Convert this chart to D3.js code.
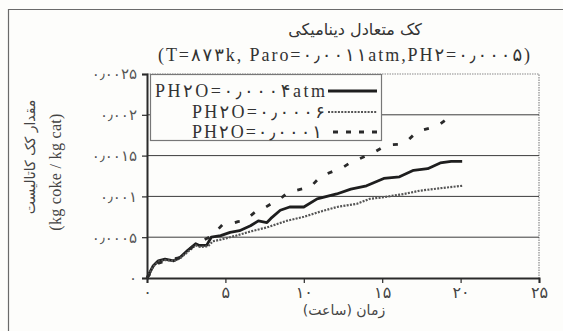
<!DOCTYPE html>
<html>
<head>
<meta charset="utf-8">
<script src="https://cdn.jsdelivr.net/npm/d3@7"></script>
<style>
  html, body { margin: 0; padding: 0; background: #fdfdfb; }
  svg { display: block; }
</style>
</head>
<body>
<svg id="chart" width="563" height="331"></svg>
<script>
// ---------------- data ----------------
const titleText = "کک متعادل دینامیکی";
const subtitleText = "(T=۸۷۳k, Paro=۰٫۰۰۱۱atm,PH۲=۰٫۰۰۰۵)";
const yLabelLine1 = "مقدار کک کاتالیست";
const yLabelLine2 = "(kg coke / kg cat)";
const xLabelText = "زمان (ساعت)";

const xTickValues = [0, 5, 10, 15, 20, 25];
const xTickLabels = ["۰", "۵", "۱۰", "۱۵", "۲۰", "۲۵"];
const yTickValues = [0, 0.0005, 0.001, 0.0015, 0.002, 0.0025];
const yTickLabels = ["۰", "۰٫۰۰۰۵", "۰٫۰۰۱", "۰٫۰۰۱۵", "۰٫۰۰۲", "۰٫۰۰۲۵"];

const seriesNames = ["PH۲O=۰٫۰۰۰۴atm", "PH۲O=۰٫۰۰۰۶", "PH۲O=۰٫۰۰۰۱"];

// PH2O = 0.0004 atm (solid)
const timeA = [0, 0.4, 0.72, 1.15, 1.7, 2.1, 2.6, 3.1, 3.3, 3.8, 4.1, 4.7, 5.3, 5.9, 6.6, 7.1, 7.65, 7.9, 8.5, 9.1, 10.0, 10.85, 12.1, 13.0, 14.0, 15.1, 16.1, 17.0, 17.9, 18.7, 19.4, 20.1];
const valA  = [0, 0.00015, 0.00021, 0.00023, 0.00021, 0.00025, 0.00034, 0.00042, 0.0004, 0.0004, 0.0005, 0.00052, 0.00056, 0.00058, 0.00064, 0.0007, 0.00068, 0.00073, 0.00083, 0.00087, 0.00087, 0.00097, 0.00103, 0.00109, 0.00113, 0.00122, 0.00124, 0.00132, 0.00134, 0.00141, 0.00143, 0.00143];

// PH2O = 0.0006 (dotted)
const timeB = [0, 0.4, 0.72, 1.15, 1.7, 2.1, 2.6, 3.1, 3.4, 3.9, 4.2, 4.7, 5.7, 6.6, 7.65, 8.9, 10.0, 11.0, 12.1, 13.4, 14.2, 15.1, 16.4, 17.4, 18.7, 20.1];
const valB  = [0, 0.00014, 0.0002, 0.00022, 0.00021, 0.00024, 0.00032, 0.0004, 0.00038, 0.00039, 0.00045, 0.00047, 0.00052, 0.00057, 0.00062, 0.0007, 0.00075, 0.00081, 0.00087, 0.00091, 0.00097, 0.00099, 0.00103, 0.00107, 0.0011, 0.00113];

// PH2O = 0.0001 (dashed)
const timeC = [0, 0.7, 1.4, 2.1, 3.2, 4.1, 4.8, 5.3, 5.8, 6.2, 7.1, 7.5, 8.0, 8.3, 9.0, 9.4, 10.1, 10.4, 11.1, 11.4, 11.9, 12.3, 13.1, 13.4, 14.0, 14.3, 15.1, 15.4, 16.1, 16.5, 17.2, 17.5, 18.1, 18.5, 19.2, 19.5];
const valC  = [0, 0.00018, 0.000225, 0.00025, 0.00043, 0.00051, 0.00065, 0.00066, 0.00069, 0.0007, 0.00084, 0.00086, 0.00092, 0.00094, 0.00105, 0.00107, 0.0011, 0.00111, 0.00125, 0.00127, 0.00131, 0.00133, 0.00143, 0.00145, 0.0015, 0.00152, 0.00161, 0.00163, 0.00164, 0.00166, 0.00179, 0.00181, 0.00184, 0.00186, 0.00196, 0.00198];

// ---------------- drawing ----------------
const svg = d3.select("#chart");
const W = 563, H = 331;
const plot = { left: 147, right: 539, top: 74, bottom: 278 };

const x = d3.scaleLinear().domain([0, 25]).range([plot.left, plot.right]);
const y = d3.scaleLinear().domain([0, 0.0025]).range([plot.bottom, plot.top]);

const serif = "'Liberation Serif', 'DejaVu Serif', 'DejaVu Sans', serif";
const sans = "'DejaVu Sans', 'Noto Sans', sans-serif";
const ink = "#2a2a2a";

// outer frame
svg.append("path")
  .attr("d", `M8.5,${H} L8.5,9.5 L${W},9.5`)
  .attr("fill", "none").attr("stroke", "#6a6a6a").attr("stroke-width", 1.2);

// plot border (top and right, dotted grey)
svg.append("path")
  .attr("d", `M${plot.left},${plot.top} L${plot.right},${plot.top} L${plot.right},${plot.bottom}`)
  .attr("fill", "none").attr("stroke", "#8a8a8a").attr("stroke-width", 1.2)
  .attr("stroke-dasharray", "1.5,1");

// gridlines
svg.append("g").selectAll("line")
  .data(yTickValues.filter(v => v > 0 && v < 0.0025))
  .join("line")
  .attr("x1", plot.left).attr("x2", plot.right)
  .attr("y1", d => y(d)).attr("y2", d => y(d))
  .attr("stroke", "#3c3c3c").attr("stroke-width", 1);

// axes
const yAxis = d3.axisLeft(y).tickValues(yTickValues)
  .tickFormat((d, i) => yTickLabels[i]).tickSize(5).tickPadding(5);
const gy = svg.append("g").attr("transform", `translate(${plot.left},0)`).call(yAxis);
gy.select(".domain").attr("stroke", ink).attr("stroke-width", 2);
gy.selectAll(".tick line").attr("stroke", ink).attr("stroke-width", 1.2);
gy.selectAll(".tick text").attr("font-family", sans).attr("font-size", 15)
  .attr("letter-spacing", 1.2)
  .attr("fill", "#555").attr("direction", "ltr");

const xAxis = d3.axisBottom(x).tickValues(xTickValues)
  .tickFormat((d, i) => xTickLabels[i]).tickSize(5).tickPadding(4);
const gx = svg.append("g").attr("transform", `translate(0,${plot.bottom})`).call(xAxis);
gx.select(".domain").attr("stroke", ink).attr("stroke-width", 2);
gx.selectAll(".tick line").attr("stroke", ink).attr("stroke-width", 1.2);
gx.selectAll(".tick text").attr("font-family", sans).attr("font-size", 16)
  .attr("letter-spacing", 1.5)
  .attr("fill", "#444");

// lines
const line = d3.line().x(d => x(d[0])).y(d => y(d[1])).curve(d3.curveLinear);
const series = [
  { t: timeA, v: valA, stroke: "#1e1e1e", width: 2.8, dash: null },
  { t: timeB, v: valB, stroke: "#555", width: 2.2, dash: "2,1.3" },
  { t: timeC, v: valC, stroke: "#2a2a2a", width: 2.8, dash: "5,13" }
];
series.forEach(s => {
  svg.append("path")
    .datum(s.t.map((t, i) => [t, s.v[i]]))
    .attr("d", line)
    .attr("fill", "none")
    .attr("stroke", s.stroke)
    .attr("stroke-width", s.width)
    .attr("stroke-dasharray", s.dash)
    .attr("stroke-linejoin", "round");
});

// legend
const lg = svg.append("g");
lg.append("rect").attr("x", 150.5).attr("y", 74.5).attr("width", 231).attr("height", 66)
  .attr("fill", "#fdfdfb").attr("stroke", "#777").attr("stroke-width", 1.2);
const rowsY = [91, 112, 132];
const legendTextStart = [155, 192, 192];
const legendTextEnd = [325, 325, 322];
seriesNames.forEach((name, i) => {
  lg.append("text")
    .attr("x", legendTextStart[i]).attr("y", rowsY[i] + 6)
    .attr("text-anchor", "start")
    .attr("direction", "ltr")
    .attr("textLength", legendTextEnd[i] - legendTextStart[i])
    .attr("lengthAdjust", "spacing")
    .attr("font-family", serif).attr("font-size", 18)
    .attr("fill", "#333")
    .text(name);
  lg.append("line")
    .attr("x1", i === 2 ? 333 : 328).attr("x2", 377)
    .attr("y1", rowsY[i]).attr("y2", rowsY[i])
    .attr("stroke", series[i].stroke)
    .attr("stroke-width", series[i].width)
    .attr("stroke-dasharray", i === 2 ? "5,8" : series[i].dash);
});

// titles
svg.append("text").attr("x", 355).attr("y", 35).attr("text-anchor", "middle")
  .attr("font-family", sans).attr("font-size", 16)
  .attr("fill", "#333").text(titleText);
svg.append("text").attr("x", 158).attr("y", 61).attr("text-anchor", "start")
  .attr("direction", "ltr")
  .attr("textLength", 372).attr("lengthAdjust", "spacing")
  .attr("font-family", serif).attr("font-size", 18)
  .attr("fill", "#333").text(subtitleText);

// axis titles
svg.append("text").attr("transform", "translate(35,157) rotate(-90)")
  .attr("text-anchor", "middle")
  .attr("font-family", sans).attr("font-size", 14)
  .attr("fill", "#444").text(yLabelLine1);
svg.append("text").attr("transform", "translate(61,172) rotate(-90)")
  .attr("text-anchor", "middle")
  .attr("font-family", serif).attr("font-size", 16)
  .attr("letter-spacing", 0.3)
  .attr("fill", "#444").text(yLabelLine2);
svg.append("text").attr("x", 344).attr("y", 315).attr("text-anchor", "middle")
  .attr("font-family", sans).attr("font-size", 14)
  .attr("fill", "#444").text(xLabelText);
</script>
</body>
</html>
